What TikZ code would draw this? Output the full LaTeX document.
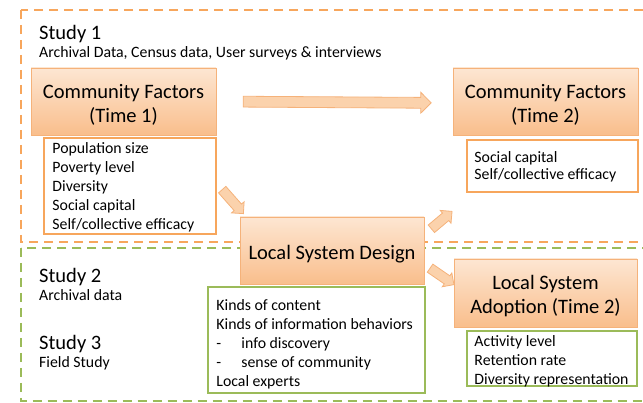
\documentclass[tikz,border=0pt]{standalone}
\usepackage{fontspec}
\setmainfont{Carlito}
\usetikzlibrary{shapes.arrows,shadows,calc}
\definecolor{otop}{RGB}{253,230,210}
\definecolor{obot}{RGB}{249,190,140}
\definecolor{obord}{RGB}{245,178,122}
\definecolor{odash}{RGB}{247,166,92}
\definecolor{gline}{RGB}{155,187,89}
\definecolor{afill}{RGB}{251,210,172}
\begin{document}
\begin{tikzpicture}[x=1pt,y=-1pt,
  titlebox/.style={draw=obord, line width=0.8pt, top color=otop, bottom color=obot,
    drop shadow={opacity=0.25, shadow xshift=1.2pt, shadow yshift=-1.5pt},
    inner sep=0pt},
  titletext/.style={inner sep=0pt, align=center, font=\fontsize{20.5}{24}\selectfont},
  obox/.style={draw=odash, line width=1.5pt, fill=white, inner sep=0pt},
  gbox/.style={draw=gline, line width=1.5pt, fill=white, inner sep=0pt},
  detail/.style={anchor=north west, inner sep=0pt, align=left, font=\fontsize{15.8}{19}\selectfont},
  studyhead/.style={anchor=base west, inner sep=0pt, font=\fontsize{20.5}{22}\selectfont},
  studysub/.style={anchor=base west, inner sep=0pt, font=\fontsize{15.8}{18}\selectfont},
  barrow/.style={single arrow, draw=obord, fill=afill, line width=0.8pt, inner xsep=0pt,
    sloped, anchor=center},
  zone/.style={line width=2pt, dash pattern=on 9pt off 6pt}
]
\useasboundingbox (0,0) rectangle (643,403);
% study zones
\draw[zone, draw=odash] (21,10) rectangle (670,242);
\draw[zone, draw=gline] (21,248) rectangle (670,401.5);

% Study labels
\node[studyhead] (s1) at (39,40) {Study 1};
\node[studysub] (s1d) at (39,58) {Archival Data, Census data, User surveys \& interviews};
\node[studyhead] (s2) at (39,283) {Study 2};
\node[studysub] (s2d) at (39,301) {Archival data};
\node[studyhead] (s3) at (39,350) {Study 3};
\node[studysub] (s3d) at (39,368) {Field Study};

% detail boxes
\node[obox, minimum width=172pt, minimum height=96pt] (cfd1) at (130,186) {};
\node[detail] at ($(cfd1.north west)+(9,5)$) (cfd1t) {Population size\\Poverty level\\Diversity\\Social capital\\Self/collective efficacy};
\node[obox, minimum width=171pt, minimum height=52pt] (cfd2) at (552.5,166) {};
\node[detail, font=\fontsize{15.8}{17.5}\selectfont] at ($(cfd2.north west)+(8,12)$) (cfd2t) {Social capital\\Self/collective efficacy};
\node[gbox, minimum width=217pt, minimum height=106pt] (lsdd) at (316.5,340) {};
\node[detail] at ($(lsdd.north west)+(9,13)$) (lsddt) {Kinds of content\\Kinds of information behaviors\\\makebox[25pt][l]{-}info discovery\\\makebox[25pt][l]{-}sense of community\\Local experts};
\node[gbox, minimum width=170pt, minimum height=55pt] (lsad) at (552,358.5) {};
\node[detail] at ($(lsad.north west)+(8,5)$) (lsadt) {Activity level\\Retention rate\\Diversity representation};

% title boxes
\node[titlebox, minimum width=185pt, minimum height=67pt] (cf1) at (123.5,101.5) {};
\node[titletext] (cf1t) at ($(cf1.center)+(0,3.5)$) {Community Factors\\(Time 1)};
\node[titlebox, minimum width=185pt, minimum height=67pt] (cf2) at (545.5,101.5) {};
\node[titletext] (cf2t) at ($(cf2.center)+(0,3.5)$) {Community Factors\\(Time 2)};
\node[titlebox, minimum width=184pt, minimum height=67pt] (lsd) at (332,250.5) {};
\node[titletext] (lsdt) at ($(lsd.center)+(0,3.5)$) {Local System Design};
\node[titlebox, minimum width=183pt, minimum height=68pt] (lsa) at (545.5,293) {};
\node[titletext] (lsat) at ($(lsa.center)+(0,3.5)$) {Local System\\Adoption (Time 2)};

% block arrows
\path (cf1.east) -- ($(cf2.west)+(0,1.5)$)
  node[barrow, pos=0.5, minimum height=188pt, inner ysep=5pt, single arrow head extend=5pt] (a1) {};
\path ($(cfd1.east)+(4,2)$) -- ($(lsd.north west)+(2,-5)$)
  node[barrow, pos=0.5, minimum height=32pt, inner ysep=4.5pt, single arrow head extend=3.5pt] (a2) {};
\path ($(lsd.north east)+(6,13)$) -- ($(cfd2.south west)+(-17,21)$)
  node[barrow, pos=0.5, minimum height=27pt, inner ysep=4.5pt, single arrow head extend=3.5pt] (a3) {};
\path ($(lsd.east)+(4,16.5)$) -- ($(lsa.west)+(-2,-10)$)
  node[barrow, pos=0.5, minimum height=29pt, inner ysep=4.5pt, single arrow head extend=3.5pt] (a4) {};
\end{tikzpicture}
\end{document}
